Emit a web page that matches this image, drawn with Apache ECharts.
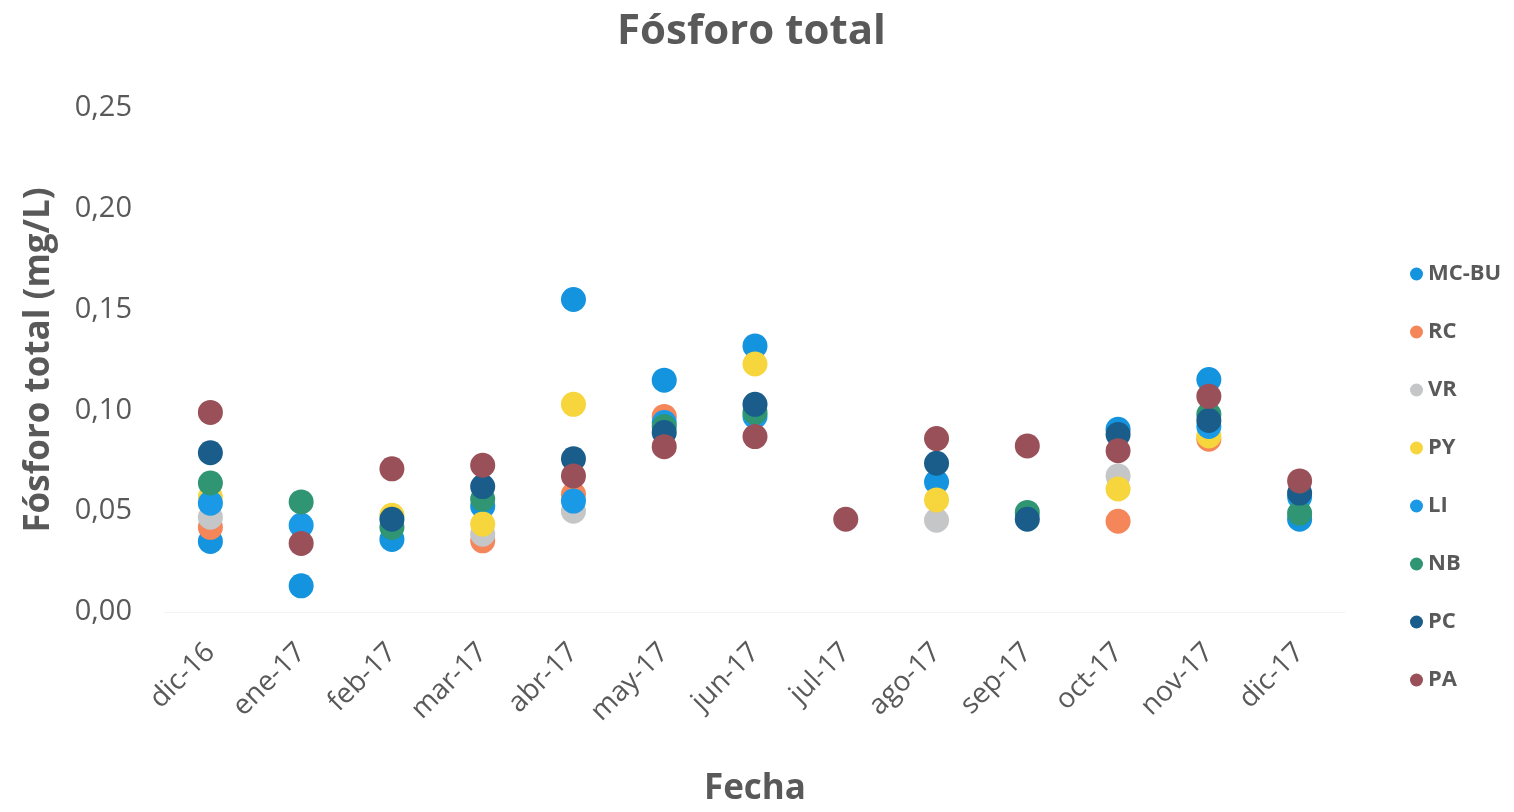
<!DOCTYPE html>
<html><head><meta charset="utf-8">
<script src="https://cdn.jsdelivr.net/npm/echarts@6/dist/echarts.min.js"></script>
<style>html,body{margin:0;padding:0;background:#fff;overflow:hidden}#c{width:1514px;height:812px}</style>
</head><body><div id="c"></div>
<script>
const categories = ['dic-16','ene-17','feb-17','mar-17','abr-17','may-17','jun-17','jul-17','ago-17','sep-17','oct-17','nov-17','dic-17'];
const yTicks = [0, 0.05, 0.10, 0.15, 0.20, 0.25];
const seriesNames = ['MC-BU','RC','VR','PY','LI','NB','PC','PA'];
const seriesColors = ['#1493de','#f4865a','#c4c6c8','#f7d53c','#1a9ae6','#2f9573','#1a5d8a','#9a5058'];
const MC_BU = [0.035, 0.013, 0.036, 0.0525, 0.155, 0.115, 0.132, null, 0.0645, null, 0.0906, 0.1153, 0.046];
const RC    = [0.042, null, null, 0.0353, 0.0584, 0.097, null, null, null, null, 0.045, 0.0857, null];
const VR    = [0.047, null, null, 0.0386, 0.050, null, null, null, 0.0455, null, 0.0675, null, null];
const PY    = [0.057, null, 0.048, 0.0436, 0.103, null, 0.123, null, 0.0556, null, 0.061, 0.0873, null];
const LI    = [0.054, 0.043, null, null, 0.055, 0.094, 0.097, null, null, null, null, 0.092, 0.057];
const NB    = [0.064, 0.0546, 0.042, 0.056, null, 0.092, 0.099, null, null, 0.0494, null, 0.098, 0.049];
const PC    = [0.079, null, 0.046, 0.0622, 0.076, 0.089, 0.103, null, 0.0738, 0.046, 0.088, 0.095, 0.059];
const PA    = [0.099, 0.034, 0.071, 0.0728, 0.0675, 0.082, 0.087, 0.046, 0.086, 0.0824, 0.080, 0.107, 0.065];
const seriesData = [MC_BU, RC, VR, PY, LI, NB, PC, PA];

const fontFam = '"Open Sans", "Liberation Sans", sans-serif';
const txt = '#595959';
const chart = echarts.init(document.getElementById('c'), null, {renderer:'canvas'});
chart.setOption({
  animation: false,
  backgroundColor: '#fff',
  title: {
    text: 'Fósforo total', left: 612, top: 6,
    textStyle: {fontFamily: fontFam, fontWeight: 'bold', fontSize: 42, color: txt}
  },
  legend: {
    orient: 'vertical', left: 1405, top: 258,
    itemWidth: 13, itemHeight: 13, itemGap: 36,
    icon: 'circle',
    textStyle: {fontFamily: fontFam, fontWeight: 'bold', fontSize: 22, color: txt},
    data: seriesNames
  },
  grid: {left: 165, right: 169, top: 108, bottom: 199, containLabel: false},
  xAxis: {
    type: 'category', data: categories, boundaryGap: true,
    name: 'Fecha', nameLocation: 'middle', nameGap: 159,
    nameTextStyle: {fontFamily: fontFam, fontWeight: 'bold', fontSize: 35, color: txt, lineHeight: 36},
    axisLine: {show: true, lineStyle: {color: '#f4f4f4'}},
    axisTick: {show: false},
    axisLabel: {rotate: 45, fontFamily: fontFam, fontSize: 28, color: txt, margin: 36, interval: 0},
    splitLine: {show: false}
  },
  yAxis: {
    type: 'value', min: 0, max: 0.25, interval: 0.05,
    name: 'Fósforo total (mg/L)', nameLocation: 'middle', nameGap: 108, nameRotate: 90,
    nameTextStyle: {fontFamily: fontFam, fontWeight: 'bold', fontSize: 35, color: txt},
    axisLine: {show: false}, axisTick: {show: false},
    splitLine: {show: false},
    axisLabel: {
      fontFamily: fontFam, fontSize: 29, color: txt, margin: 33,
      formatter: v => yTicks.some(t => Math.abs(t - v) < 1e-9) ? v.toFixed(2).replace('.', ',') : ''
    }
  },
  series: seriesNames.map((n, i) => ({
    name: n, type: 'scatter', symbol: 'circle', symbolSize: 25,
    itemStyle: {color: seriesColors[i], opacity: 1},
    data: seriesData[i]
  }))
});
</script></body></html>
